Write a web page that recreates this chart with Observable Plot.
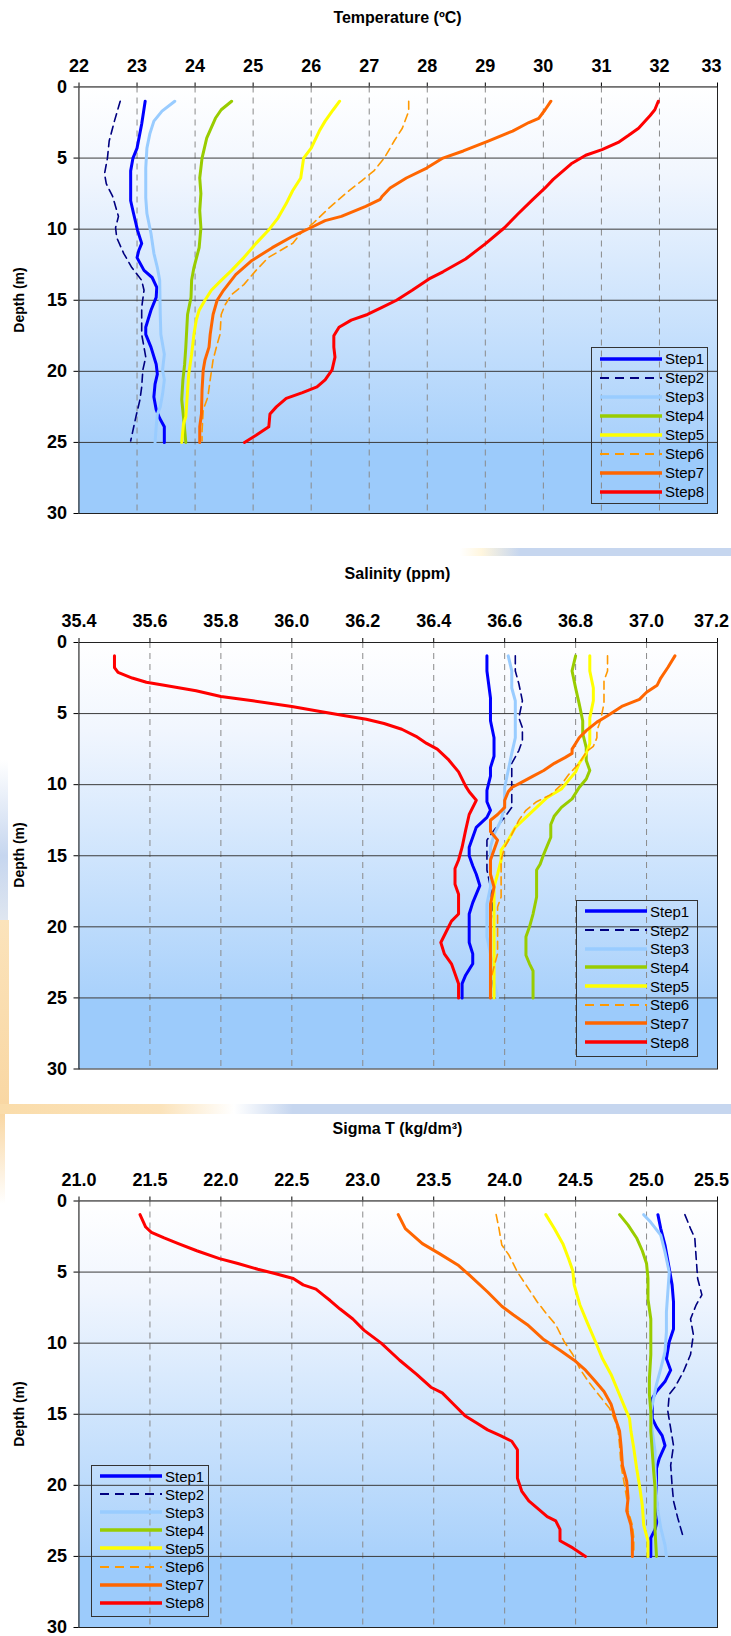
<!DOCTYPE html>
<html>
<head>
<meta charset="utf-8">
<script src="https://cdn.jsdelivr.net/npm/d3@7"></script>
<script src="https://cdn.jsdelivr.net/npm/@observablehq/plot@0.6"></script>
<style>
  html, body { margin: 0; padding: 0; background: #fff; }
  #page { position: relative; width: 731px; height: 1636px; overflow: hidden; font-family: "Liberation Sans", Arial, sans-serif; }
  .deco { position: absolute; }
  .chart { position: absolute; left: 0; }
  .title { position: absolute; width: 731px; left: 0; text-align: center; font-family: "Liberation Sans Narrow", "Liberation Sans", Arial, sans-serif; font-weight: bold; font-size: 16px; color: #000; }
  .title span { display: inline-block; transform: translateX(32px); }
  .ylab { position: absolute; font-family: "Liberation Sans", Arial, sans-serif; font-weight: bold; font-size: 14px; line-height: 16px; height: 16px; transform: rotate(-90deg); transform-origin: center center; white-space: nowrap; width: 120px; text-align: center; }
  .legend { position: absolute; border: 1px solid #333; box-sizing: border-box; padding-top: 1px; }
  .legend .row { display: flex; align-items: center; }
  .legend svg { display: block; margin-left: 7px; margin-right: 2px; }
  .legend span { display: block; font-family: "Liberation Sans", Arial, sans-serif; font-size: 15px; color: #000; line-height: 17px; }
</style>
</head>
<body>
<div id="page">
  <!-- faint slide background remnants -->
  <div class="deco" style="left:460px; top:548px; width:271px; height:8px; background:linear-gradient(to right, rgba(255,240,200,0), rgba(255,240,200,0.6) 8%, #c6d6ef 22%, #c6d6ef)"></div>
  <div class="deco" style="left:0; top:1104px; width:731px; height:10px; background:linear-gradient(to right, #fadcaa, #fbe3bb 22%, #ffffff 32%, #c6d6ef 40%, #c6d6ef)"></div>
  <div class="deco" style="left:0; top:760px; width:8px; height:160px; background:linear-gradient(to bottom, rgba(198,214,239,0), #c6d6ef 60%, #dfe6f0)"></div>
  <div class="deco" style="left:0; top:920px; width:9px; height:184px; background:linear-gradient(to bottom, #fbe3bb, #f9d7a3)"></div>
  <div class="deco" style="left:0; top:1114px; width:5px; height:90px; background:linear-gradient(to bottom, #f9d7a3, rgba(249,215,163,0))"></div>
</div>
<svg width="0" height="0" style="position:absolute">
  <defs>
    <linearGradient id="bggrad" x1="0" y1="0" x2="0" y2="1">
      <stop offset="0" stop-color="#ffffff"/>
      <stop offset="0.25" stop-color="#f1f6fe"/>
      <stop offset="1" stop-color="#a9d1fb"/>
    </linearGradient>
  </defs>
</svg>
<script>
// ---------------- DATA ----------------
const steps = ["Step1","Step2","Step3","Step4","Step5","Step6","Step7","Step8"];
const stepColors = ["#0000ff","#000080","#99ccff","#99cc00","#ffff00","#ff9900","#ff6600","#ff0000"];
const stepDashed = [false,true,false,false,false,true,false,false];

const depthTicks = [0,5,10,15,20,25,30];
const tempTicks = [22,23,24,25,26,27,28,29,30,31,32,33];
const salTicks = [35.4,35.6,35.8,36.0,36.2,36.4,36.6,36.8,37.0,37.2];
const sigTicks = [21.0,21.5,22.0,22.5,23.0,23.5,24.0,24.5,25.0,25.5];

// Temperature profiles: [depth m, temperature °C]
const tempStep1 = [[1,23.14],[2.6,23.08],[4.3,23.0],[5,22.93],[5.9,22.89],[8,22.89],[8.9,22.94],[10.1,23.01],[11,23.08],[11.5,23.03],[12,23.0],[12.9,23.12],[13.4,23.26],[14.1,23.34],[14.8,23.33],[15.7,23.24],[16.9,23.15],[17.4,23.15],[18.3,23.24],[19.5,23.33],[20.2,23.35],[20.9,23.31],[21.8,23.29],[22.7,23.33],[23.3,23.39],[23.9,23.47],[25,23.47]];
const tempStep2 = [[1,22.71],[2.4,22.61],[3.8,22.52],[5,22.49],[6.1,22.44],[6.8,22.47],[7.7,22.58],[9.1,22.68],[9.9,22.63],[10.6,22.65],[11.7,22.77],[12.7,22.91],[13.6,23.08],[14.3,23.12],[15.5,23.08],[17.4,23.08],[18.3,23.12],[19,23.15],[19.9,23.1],[21.1,23.08],[22,23.05],[23.2,22.98],[24.9,22.89]];
const tempStep3 = [[1,23.65],[1.7,23.43],[2.4,23.29],[3.3,23.22],[4.3,23.17],[5.7,23.15],[7.8,23.15],[8.9,23.17],[10.3,23.24],[11.7,23.29],[12.7,23.35],[13.6,23.39],[16,23.4],[17.4,23.41],[18.8,23.47],[19.9,23.44],[20.6,23.47],[21.6,23.44],[22.5,23.4],[23,23.35],[23.9,23.33],[25,23.31]];
const tempStep4 = [[1,24.63],[1.6,24.45],[2.2,24.35],[3.6,24.2],[5,24.12],[6.4,24.08],[7.5,24.1],[8.7,24.08],[9.9,24.1],[11.3,24.07],[12.7,23.98],[13.6,23.94],[14.8,23.93],[16,23.87],[18.3,23.84],[19.5,23.82],[20.6,23.79],[22,23.77],[23.2,23.8],[25,23.84]];
const tempStep5 = [[1,26.49],[1.6,26.38],[2.4,26.24],[3.1,26.14],[4.3,26.0],[5,25.87],[6.4,25.82],[7.3,25.68],[8.2,25.57],[9.2,25.43],[10.1,25.26],[11,25.05],[12,24.84],[12.9,24.63],[13.6,24.45],[14.3,24.28],[15,24.17],[15.7,24.07],[16.4,24.02],[17.4,23.98],[18.8,23.94],[20.2,23.89],[22,23.86],[23.2,23.84],[23.7,23.8],[25,23.77]];
const tempStep6 = [[1,27.68],[1.7,27.68],[2.9,27.57],[3.8,27.43],[5,27.26],[5.9,27.08],[6.6,26.87],[7.5,26.59],[8.5,26.31],[9.6,26.03],[10.3,25.82],[11,25.68],[11.5,25.47],[12,25.26],[12.9,25.05],[13.9,24.84],[14.6,24.63],[15.3,24.52],[16,24.45],[17.4,24.43],[18.1,24.38],[19.2,24.31],[20.6,24.26],[21.8,24.22],[22.7,24.14],[24.2,24.12],[24.9,24.12]];
const tempStep7 = [[1,30.13],[1.6,30.03],[2.2,29.92],[2.5,29.75],[3.1,29.47],[3.8,29.05],[4.5,28.62],[5,28.27],[5.7,27.99],[6.4,27.64],[7.1,27.36],[7.7,27.22],[7.9,27.19],[8.4,26.94],[9.1,26.52],[9.4,26.24],[9.9,25.99],[10.5,25.68],[11.3,25.33],[12.2,24.98],[13.2,24.7],[14.3,24.49],[15,24.38],[16,24.31],[17.4,24.26],[18.3,24.24],[19.2,24.17],[19.9,24.14],[21.3,24.12],[23,24.11],[23.9,24.08],[25,24.08]];
const tempStep8 = [[1,31.98],[1.6,31.92],[2,31.84],[2.9,31.64],[3.4,31.47],[3.9,31.29],[4.4,31.01],[4.8,30.73],[5.4,30.48],[5.9,30.34],[6.5,30.17],[7.1,30.03],[7.9,29.82],[8.9,29.57],[9.9,29.33],[11,29.01],[12.1,28.66],[13,28.27],[13.5,28.03],[14.3,27.74],[15,27.47],[15.5,27.22],[16,26.97],[16.4,26.69],[16.9,26.48],[17.5,26.39],[18.3,26.39],[19,26.41],[19.9,26.36],[20.6,26.24],[21.1,26.1],[21.5,25.85],[21.9,25.57],[22.5,25.4],[23,25.29],[23.9,25.27],[24.5,25.05],[25,24.85]];

// Salinity profiles: [depth m, salinity ppm]
const salStep1 = [[0.94,36.55],[2,36.55],[3.9,36.56],[5.5,36.56],[6.7,36.57],[8,36.57],[8.8,36.56],[9.4,36.56],[10.4,36.55],[11.2,36.55],[11.8,36.56],[12.3,36.55],[13,36.52],[13.7,36.51],[14.4,36.5],[15,36.5],[15.7,36.51],[16.3,36.52],[17.1,36.53],[17.7,36.52],[18.3,36.51],[19.1,36.5],[20,36.5],[21.1,36.5],[21.9,36.51],[22.6,36.51],[23.4,36.49],[24,36.48],[25,36.48]];
const salStep2 = [[0.94,36.63],[2,36.63],[2.9,36.64],[4.1,36.65],[5.3,36.64],[6,36.65],[6.9,36.65],[7.6,36.64],[8.5,36.62],[9.7,36.62],[10.7,36.62],[11.6,36.62],[12.3,36.6],[13.2,36.57],[13.9,36.55],[14.9,36.55],[16,36.55],[17.2,36.56],[19.6,36.57],[21.9,36.57],[25,36.56]];
const salStep3 = [[0.94,36.61],[2,36.62],[3.2,36.62],[4.1,36.63],[5,36.63],[6.7,36.63],[7.8,36.62],[9,36.61],[10.2,36.6],[11.4,36.6],[12.5,36.59],[13.5,36.57],[14.4,36.56],[16,36.56],[17.2,36.56],[18.4,36.55],[20.7,36.55],[21.9,36.56],[23.8,36.57],[25,36.58]];
const salStep4 = [[0.94,36.8],[2,36.79],[3.2,36.8],[4.3,36.81],[5.5,36.82],[6.4,36.82],[7.4,36.83],[8.3,36.83],[9,36.84],[9.6,36.83],[10.2,36.81],[11,36.79],[11.6,36.76],[12.2,36.74],[12.8,36.73],[13.7,36.73],[14.9,36.71],[15.6,36.7],[16,36.69],[17.9,36.69],[19.1,36.68],[20,36.67],[20.7,36.66],[21.4,36.66],[22,36.66],[22.6,36.67],[23.1,36.68],[25,36.68]];
const salStep5 = [[0.94,36.84],[2,36.84],[3.2,36.85],[4.1,36.85],[5.3,36.84],[6.4,36.84],[7.1,36.84],[7.8,36.83],[8.5,36.81],[9.1,36.8],[9.7,36.78],[10.3,36.76],[10.9,36.72],[11.6,36.69],[12.3,36.66],[13,36.63],[13.9,36.61],[14.6,36.59],[15.3,36.59],[16.3,36.58],[17.2,36.57],[18.4,36.57],[19.6,36.57],[21.9,36.57],[25,36.57]];
const salStep6 = [[0.94,36.89],[2,36.89],[2.7,36.88],[4.3,36.88],[5.5,36.87],[6.2,36.86],[6.7,36.86],[7.3,36.85],[7.7,36.83],[8.5,36.81],[9.3,36.78],[10,36.76],[10.7,36.73],[11.2,36.69],[11.8,36.66],[12.5,36.64],[13.5,36.62],[14.4,36.6],[15.3,36.59],[16.7,36.59],[17.9,36.59],[18.6,36.58],[19.6,36.58],[21,36.58],[21.9,36.58],[22.8,36.57],[23.8,36.56],[25,36.56]];
const salStep7 = [[0.94,37.08],[1.76,37.06],[2.5,37.04],[3,37.03],[3.5,37.0],[4,36.98],[4.5,36.93],[5.15,36.89],[5.6,36.86],[6.2,36.83],[6.7,36.81],[7.1,36.8],[7.5,36.79],[7.8,36.79],[8.1,36.77],[8.5,36.74],[9,36.71],[9.4,36.68],[9.8,36.65],[10.2,36.62],[10.5,36.61],[11.1,36.6],[11.6,36.6],[12.1,36.58],[12.5,36.56],[13.1,36.56],[13.3,36.56],[13.9,36.58],[14.6,36.57],[15.3,36.56],[16.3,36.56],[17.2,36.57],[18.4,36.56],[19.6,36.56],[21.9,36.56],[25,36.56]];
const salStep8 = [[0.94,35.5],[1.76,35.5],[2.1,35.51],[2.5,35.55],[2.8,35.59],[3.0,35.64],[3.4,35.73],[3.8,35.8],[4.1,35.89],[4.5,36.0],[4.85,36.08],[5.15,36.15],[5.4,36.21],[5.7,36.26],[6.1,36.31],[6.6,36.35],[7.1,36.38],[7.5,36.41],[8.2,36.44],[9.1,36.47],[10.1,36.49],[10.5,36.5],[11.1,36.52],[12.1,36.5],[13.2,36.49],[14.4,36.48],[15.3,36.47],[15.9,36.46],[17,36.46],[17.7,36.47],[19.1,36.47],[19.6,36.45],[20.1,36.44],[21.1,36.42],[21.9,36.43],[22.6,36.45],[23.3,36.46],[24,36.47],[25,36.47]];

// Sigma T profiles: [depth m, sigma-t kg/dm3]
const sigStep1 = [[0.96,25.08],[1.94,25.1],[3.1,25.13],[4.75,25.16],[5.9,25.18],[7.1,25.19],[9,25.19],[9.9,25.16],[11.1,25.14],[11.9,25.17],[12.7,25.13],[13.4,25.07],[13.9,25.04],[15.3,25.04],[15.9,25.07],[16.5,25.11],[17.2,25.13],[18.1,25.09],[18.8,25.07],[20,25.07],[21.1,25.07],[22.3,25.08],[23.1,25.06],[23.7,25.03],[25,25.03]];
const sigStep2 = [[0.96,25.27],[1.94,25.31],[2.6,25.34],[4.05,25.35],[5.45,25.36],[6.6,25.39],[7.3,25.35],[8.3,25.31],[9.4,25.33],[10.8,25.31],[12,25.26],[13.1,25.2],[13.6,25.16],[14.8,25.15],[16,25.17],[17.2,25.19],[18.6,25.17],[20,25.18],[21.1,25.19],[22.3,25.22],[23,25.24],[23.7,25.26]];
const sigStep3 = [[0.96,24.98],[1.5,25.03],[2.4,25.1],[3.6,25.13],[5,25.16],[6.4,25.15],[7.8,25.14],[9.2,25.14],[10.6,25.13],[11.8,25.1],[12.9,25.07],[13.9,25.05],[14.8,25.03],[16.2,25.04],[17.6,25.06],[19,25.06],[20.7,25.07],[21.8,25.08],[23,25.1],[24.2,25.13],[25,25.14]];
const sigStep4 = [[0.96,24.81],[1.7,24.87],[2.6,24.93],[3.5,24.97],[4.4,25.0],[5.45,25.01],[6.9,25.01],[8.3,25.03],[9.2,25.03],[10.8,25.03],[12.5,25.02],[13.6,25.02],[14.8,25.03],[16.2,25.03],[17.6,25.04],[19,25.05],[20.2,25.06],[21.8,25.06],[23.2,25.06],[25,25.07]];
const sigStep5 = [[0.96,24.29],[1.94,24.35],[3,24.41],[4.05,24.45],[4.9,24.48],[5.9,24.49],[7.3,24.53],[8.5,24.58],[9.9,24.64],[11.1,24.69],[12.2,24.75],[13.4,24.8],[14.6,24.85],[15.3,24.88],[16.2,24.89],[17.4,24.91],[18.8,24.93],[20,24.95],[21.4,24.97],[22.8,24.98],[23.9,25.01],[25,25.01]];
const sigStep6 = [[0.96,23.94],[1.94,23.96],[3.1,23.98],[3.8,24.03],[5,24.09],[6.2,24.17],[7.1,24.23],[8,24.3],[8.7,24.36],[9.9,24.42],[10.8,24.48],[11.8,24.53],[12.7,24.59],[13.6,24.66],[14.6,24.74],[15.5,24.78],[16.2,24.8],[17.2,24.81],[18.6,24.82],[19.7,24.84],[20.9,24.86],[21.8,24.87],[22.8,24.9],[23.7,24.91],[24.9,24.91]];
const sigStep7 = [[0.96,23.25],[1.94,23.3],[3,23.42],[3.7,23.54],[4.5,23.67],[5.2,23.75],[6.4,23.88],[7.4,23.98],[8,24.06],[8.7,24.16],[9.7,24.27],[10.5,24.39],[11.2,24.49],[11.9,24.57],[12.7,24.64],[13.4,24.7],[14.3,24.75],[15.3,24.78],[16.2,24.81],[17.2,24.82],[18.6,24.83],[19.7,24.86],[20.9,24.87],[21.8,24.86],[22.8,24.89],[23.7,24.9],[25,24.9]];
const sigStep8 = [[0.96,21.43],[1.83,21.47],[2.2,21.51],[2.6,21.6],[3.0,21.7],[3.5,21.83],[4.05,21.99],[4.4,22.12],[4.8,22.26],[5.1,22.38],[5.45,22.51],[5.9,22.58],[6.2,22.67],[6.6,22.72],[7.0,22.77],[7.6,22.84],[8.3,22.93],[9.1,23.01],[10,23.13],[11.2,23.26],[12.2,23.38],[13.1,23.48],[13.5,23.56],[14.3,23.64],[15.1,23.72],[15.6,23.8],[16.1,23.88],[16.5,23.97],[16.9,24.05],[17.5,24.09],[18.8,24.09],[19.5,24.09],[20.4,24.12],[21.1,24.17],[21.6,24.23],[22.2,24.3],[22.5,24.36],[23.1,24.39],[23.9,24.39],[24.4,24.48],[25,24.57]];

const charts = [
  {title: "Temperature (\u00baC)", ticks: tempTicks, fmt: d3.format("d"), series: [tempStep1,tempStep2,tempStep3,tempStep4,tempStep5,tempStep6,tempStep7,tempStep8], top: 0, titleY: 9, legend: {left: 591, top: 347, w: 117, h: 157, row: 19}},
  {title: "Salinity (ppm)", ticks: salTicks, fmt: d3.format(".1f"), series: [salStep1,salStep2,salStep3,salStep4,salStep5,salStep6,salStep7,salStep8], top: 556, titleY: 565, legend: {left: 576, top: 900, w: 122, h: 157, row: 18.7}},
  {title: "Sigma T (kg/dm\u00b3)", ticks: sigTicks, fmt: d3.format(".1f"), series: [sigStep1,sigStep2,sigStep3,sigStep4,sigStep5,sigStep6,sigStep7,sigStep8], top: 1116, titleY: 1120, legend: {left: 91, top: 1465, w: 118, h: 152, row: 18.1}}
];

// plot area layout (px) inside each chart svg
const ML = 78.5, MR = 14;
const plotTops = [86.5, 642, 1200.5];
const plotH = 426.5;

const page = document.getElementById("page");

charts.forEach((c, ci) => {
  const svgTop = c.top;
  const marginTop = plotTops[ci] - svgTop;
  const height = Math.min(marginTop + plotH + 14, 1636 - svgTop);
  const domain = [c.ticks[0], c.ticks[c.ticks.length - 1]];
  const lastTick = c.ticks[c.ticks.length - 1];
  const marks = [];
  // background gradient bands
  marks.push(Plot.rect([{y1: 0, y2: 25}], {x1: domain[0], x2: domain[1], y1: "y1", y2: "y2", fill: "url(#bggrad)"}));
  marks.push(Plot.rect([{y1: 25, y2: 30}], {x1: domain[0], x2: domain[1], y1: "y1", y2: "y2", fill: "#9ccbfb"}));
  // grid
  marks.push(Plot.ruleX(c.ticks.slice(1, -1), {stroke: "#8a8a8a", strokeWidth: 1, strokeDasharray: "6,5"}));
  marks.push(Plot.ruleY([5,10,15,20,25], {stroke: "#3a3a3a", strokeWidth: 1}));
  // series
  c.series.forEach((s, si) => {
    marks.push(Plot.line(s, {
      x: d => d[1], y: d => d[0],
      stroke: stepColors[si],
      strokeWidth: stepDashed[si] ? 1.6 : 3,
      strokeDasharray: stepDashed[si] ? "8,5" : null,
      curve: "linear"
    }));
  });
  marks.push(Plot.frame({stroke: "#222", strokeWidth: 1}));
  // top tick labels (last one nudged inside the page like the original)
  marks.push(Plot.text(c.ticks.slice(0, -1), {x: d => d, frameAnchor: "top", dy: -28, text: d => c.fmt(d), clip: false}));
  marks.push(Plot.text([lastTick], {x: d => d, frameAnchor: "top", dy: -28, dx: -6, text: d => c.fmt(d), clip: false}));
  const svg = Plot.plot({
    width: 731, height,
    marginTop, marginLeft: ML, marginRight: MR, marginBottom: height - marginTop - plotH,
    style: {fontFamily: "'Liberation Sans Narrow', 'Liberation Sans', Arial, sans-serif", fontWeight: "bold", fontSize: "18px", background: "transparent", color: "#000", overflow: "visible"},
    x: {domain, ticks: c.ticks, tickFormat: () => "", axis: "top", label: null, tickSize: 5, tickPadding: 0, line: true},
    y: {domain: [0, 30], reverse: true, ticks: depthTicks, axis: "left", label: null, tickSize: 5, tickPadding: 7, line: true},
    marks
  });
  svg.classList.add("chart");
  svg.style.top = svgTop + "px";
  page.appendChild(svg);

  // title
  const t = document.createElement("div");
  t.className = "title";
  t.style.top = c.titleY + "px";
  t.innerHTML = "<span></span>";
  t.firstChild.textContent = c.title;
  page.appendChild(t);

  // y label
  const yl = document.createElement("div");
  yl.className = "ylab";
  yl.textContent = "Depth (m)";
  yl.style.left = (19 - 60) + "px";
  yl.style.top = (plotTops[ci] + plotH / 2 - 8) + "px";
  page.appendChild(yl);

  // legend
  const lg = document.createElement("div");
  lg.className = "legend";
  Object.assign(lg.style, {left: c.legend.left + "px", top: c.legend.top + "px", width: c.legend.w + "px", height: c.legend.h + "px"});
  steps.forEach((name, si) => {
    const row = document.createElement("div");
    row.className = "row";
    row.style.height = c.legend.row + "px";
    const ns = "http://www.w3.org/2000/svg";
    const sv = document.createElementNS(ns, "svg");
    sv.setAttribute("width", "64"); sv.setAttribute("height", "8");
    const ln = document.createElementNS(ns, "line");
    ln.setAttribute("x1", "1"); ln.setAttribute("x2", "63"); ln.setAttribute("y1", "4"); ln.setAttribute("y2", "4");
    ln.setAttribute("stroke", stepColors[si]);
    ln.setAttribute("stroke-width", stepDashed[si] ? "2" : "3.5");
    if (stepDashed[si]) ln.setAttribute("stroke-dasharray", "9,6");
    sv.appendChild(ln);
    row.appendChild(sv);
    const sp = document.createElement("span");
    sp.textContent = name;
    row.appendChild(sp);
    lg.appendChild(row);
  });
  page.appendChild(lg);
});
</script>
</body>
</html>
